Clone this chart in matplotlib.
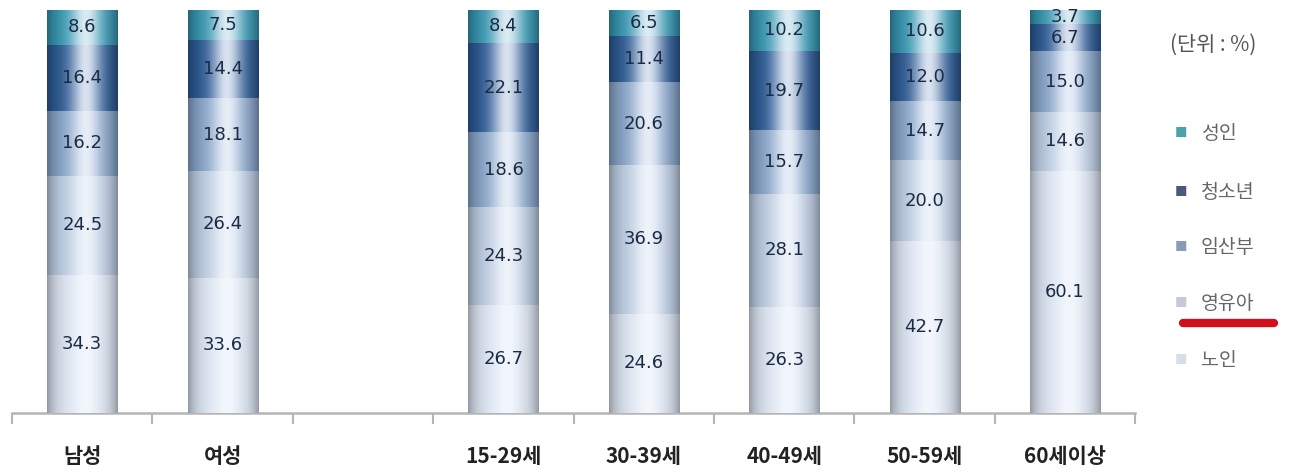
import numpy as np
import matplotlib
matplotlib.use("Agg")
import matplotlib.pyplot as plt
from matplotlib.lines import Line2D
from matplotlib.colors import to_rgb

plt.rcParams["font.family"] = ["Noto Sans CJK KR", "DejaVu Sans"]

# 데이터 (단위: %)
categories = ["남성", "여성", "15-29세", "30-39세", "40-49세", "50-59세", "60세이상"]
slots = [0, 1, 3, 4, 5, 6, 7]   # 2번 칸은 비워둠
series = ["노인", "영유아", "임산부", "청소년", "성인"]
elderly = [34.3, 33.6, 26.7, 24.6, 26.3, 42.7, 60.1]
infant = [24.5, 26.4, 24.3, 36.9, 28.1, 20.0, 14.6]
pregnant = [16.2, 18.1, 18.6, 20.6, 15.7, 14.7, 15.0]
youth = [16.4, 14.4, 22.1, 11.4, 19.7, 12.0, 6.7]
adult = [8.6, 7.5, 8.4, 6.5, 10.2, 10.6, 3.7]
values = [elderly, infant, pregnant, youth, adult]

bar_colors = ["#D8E1EE", "#BACADF", "#86A3C7", "#2C5A94", "#3596B0"]
legend_colors = ["#D8DEE6", "#C6C9DA", "#8A9BB6", "#4A5A78", "#4BA3A8"]


def cylinder_image(base):
    """원통 느낌의 가로 그라데이션."""
    t = np.linspace(0, 1, 200)
    base = np.array(to_rgb(base))
    glow = 0.85 * np.exp(-((t - 0.55) / 0.22) ** 2)
    edge = 1 - 0.32 * (np.abs(t - 0.5) * 2) ** 4
    rgb = base[None, :] * (1 - glow[:, None]) + glow[:, None] * np.array([0.97, 0.98, 1.0])
    rgb = rgb * edge[:, None]
    return np.clip(rgb, 0, 1)[None, :, :]


fig = plt.figure(figsize=(12.97, 4.72), dpi=100)
ax = fig.add_axes([0.0093, 0.125, 0.866, 0.854])

bottoms = np.zeros(len(categories))
for vals, color in zip(values, bar_colors):
    bars = ax.bar(slots, vals, width=0.5, bottom=bottoms, color=color, linewidth=0, zorder=2)
    img = cylinder_image(color)
    for bar in bars:
        x0, y0 = bar.get_x(), bar.get_y()
        im = ax.imshow(img, extent=(x0, x0 + bar.get_width(), y0, y0 + bar.get_height()),
                       aspect="auto", zorder=3, interpolation="bilinear")
        im.set_clip_path(bar)
    for x, b, v in zip(slots, bottoms, vals):
        ax.text(x, b + v / 2, f"{v:.1f}", ha="center", va="center",
                fontsize=13, color="#1B2B45", zorder=4, family="DejaVu Sans")
    bottoms = bottoms + np.array(vals)

ax.set_xlim(-0.5, 7.5)
ax.set_ylim(0, 100)
for side in ["top", "right", "left"]:
    ax.spines[side].set_visible(False)
ax.spines["bottom"].set_color("#B5B5B5")
ax.spines["bottom"].set_linewidth(1.8)
ax.set_yticks([])
ax.set_xticks(slots)
ax.set_xticklabels(categories, fontsize=15, fontweight="bold", color="#222222")
ax.tick_params(axis="x", which="major", length=0, pad=24)
ax.set_xticks(np.arange(-0.5, 8, 1), minor=True)
ax.tick_params(axis="x", which="minor", length=8, width=1.5, color="#B5B5B5")

# 범례
fig.text(0.902, 0.905, "(단위 : %)", fontsize=15, color="#555555", va="center")
legend_y = [0.718, 0.593, 0.475, 0.358, 0.237]
for name, color, y in zip(series[::-1], legend_colors[::-1], legend_y):
    fig.text(0.9105, y, "■", fontsize=9, color=color, va="center", ha="center")
    fig.text(0.926, y, name, fontsize=14, color="#666666", va="center")

fig.add_artist(Line2D([0.912, 0.982], [0.316, 0.316], transform=fig.transFigure,
                      color="#D2101C", linewidth=6, solid_capstyle="round"))

fig.savefig("out.png", dpi=100, facecolor="white")
